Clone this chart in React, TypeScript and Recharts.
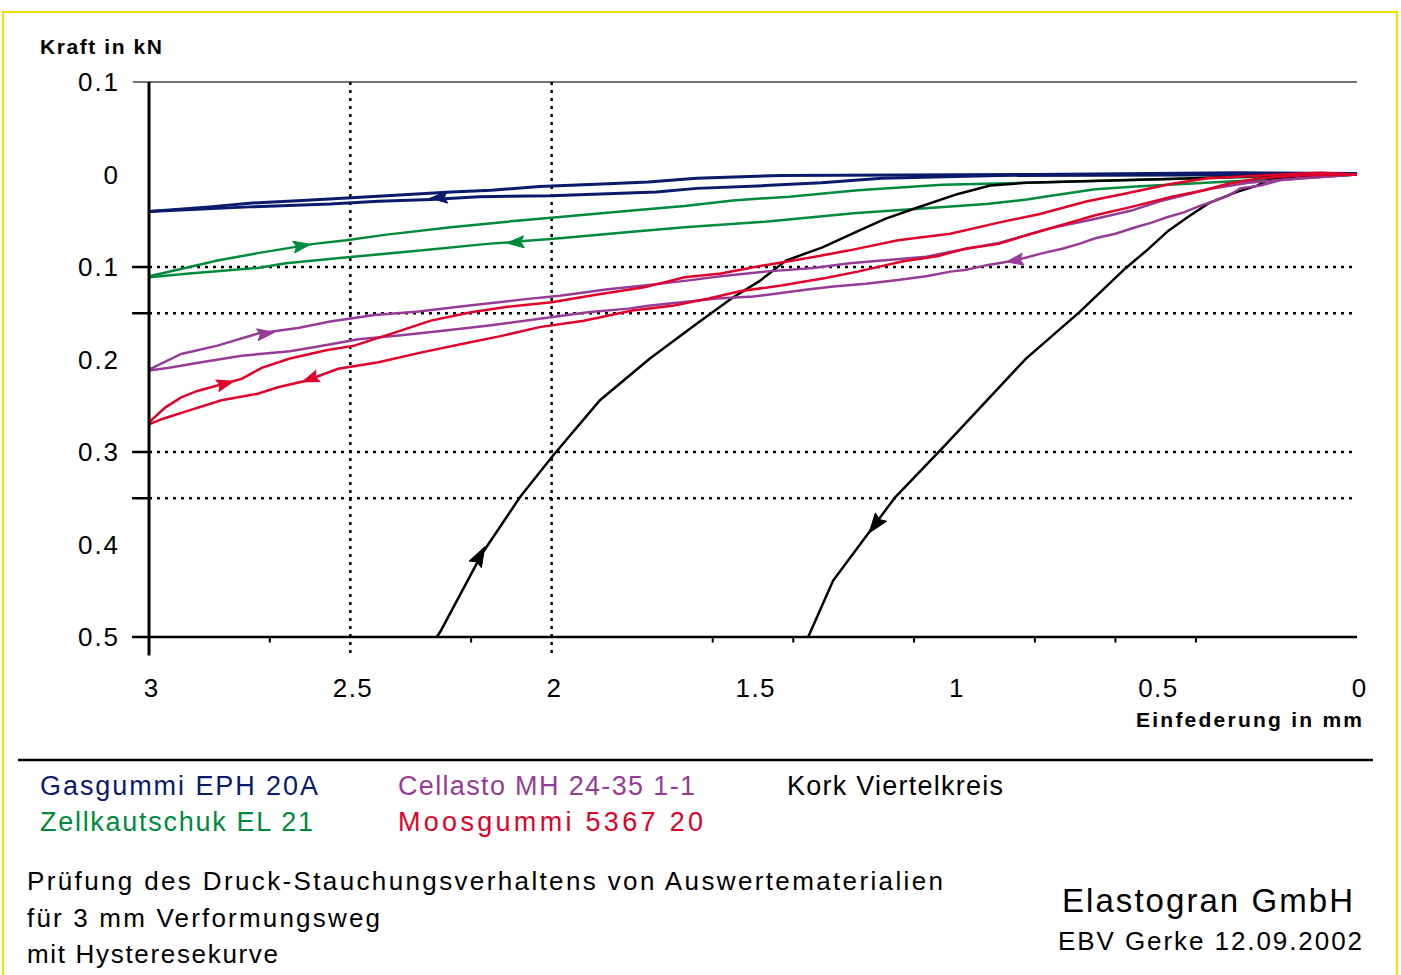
import React from 'react';
import { ComposedChart, Line, XAxis, YAxis, ReferenceLine, Scatter } from 'recharts';

type Pt = { x: number; y: number };

// ---------- axes ----------
const X_TICKS = [3, 2.5, 2, 1.5, 1, 0.5, 0];
const Y_TICKS = [-0.1, 0, 0.1, 0.2, 0.3, 0.4, 0.5];
const H_GRID = [0.1, 0.15, 0.3, 0.35];
const V_GRID = [2.5, 2];
const X_MINOR_TICKS = [2.7, 2.2, 1.6, 1.4, 1.1, 0.8, 0.6, 0.4];

// ---------- series (x = Einfederung mm, y = Kraft kN) ----------
const gasgummiUnload: Pt[] = [
  { x: 3.0, y: 0.04 }, { x: 2.85, y: 0.035 }, { x: 2.75, y: 0.031 }, { x: 2.62, y: 0.028 },
  { x: 2.53, y: 0.026 }, { x: 2.41, y: 0.023 }, { x: 2.25, y: 0.019 }, { x: 2.15, y: 0.017 },
  { x: 2.03, y: 0.013 }, { x: 1.86, y: 0.01 }, { x: 1.76, y: 0.008 }, { x: 1.64, y: 0.004 },
  { x: 1.43, y: 0.001 }, { x: 0.8, y: 0.0 }, { x: 0.3, y: -0.002 }, { x: 0, y: -0.001 },
];
const gasgummiLoad: Pt[] = [
  { x: 3.0, y: 0.04 }, { x: 2.75, y: 0.035 }, { x: 2.55, y: 0.032 }, { x: 2.43, y: 0.029 },
  { x: 2.3, y: 0.027 }, { x: 2.18, y: 0.024 }, { x: 2.0, y: 0.023 }, { x: 1.74, y: 0.019 },
  { x: 1.64, y: 0.015 }, { x: 1.47, y: 0.012 }, { x: 1.33, y: 0.009 }, { x: 1.18, y: 0.004 },
  { x: 0.89, y: 0.001 }, { x: 0, y: 0.0 },
];
const zellUnload: Pt[] = [
  { x: 3.0, y: 0.11 }, { x: 2.91, y: 0.101 }, { x: 2.83, y: 0.093 }, { x: 2.73, y: 0.085 },
  { x: 2.59, y: 0.075 }, { x: 2.51, y: 0.071 }, { x: 2.41, y: 0.065 }, { x: 2.25, y: 0.057 },
  { x: 2.11, y: 0.051 }, { x: 1.98, y: 0.046 }, { x: 1.8, y: 0.039 }, { x: 1.67, y: 0.034 },
  { x: 1.55, y: 0.028 }, { x: 1.41, y: 0.024 }, { x: 1.24, y: 0.017 }, { x: 1.03, y: 0.011 },
  { x: 0.82, y: 0.009 }, { x: 0.39, y: 0.004 }, { x: 0, y: 0.0 },
];
const zellLoad: Pt[] = [
  { x: 3.0, y: 0.111 }, { x: 2.9, y: 0.107 }, { x: 2.73, y: 0.101 }, { x: 2.66, y: 0.096 },
  { x: 2.52, y: 0.09 }, { x: 2.32, y: 0.082 }, { x: 2.16, y: 0.075 }, { x: 1.98, y: 0.069 },
  { x: 1.8, y: 0.062 }, { x: 1.67, y: 0.057 }, { x: 1.47, y: 0.051 }, { x: 1.25, y: 0.042 },
  { x: 1.09, y: 0.037 }, { x: 0.92, y: 0.032 }, { x: 0.82, y: 0.027 }, { x: 0.76, y: 0.023 },
  { x: 0.65, y: 0.016 }, { x: 0.55, y: 0.013 }, { x: 0.16, y: 0.004 }, { x: 0, y: 0.0 },
];
const cellastoUnload: Pt[] = [
  { x: 3.0, y: 0.211 }, { x: 2.92, y: 0.194 }, { x: 2.83, y: 0.185 }, { x: 2.73, y: 0.172 },
  { x: 2.63, y: 0.166 }, { x: 2.55, y: 0.159 }, { x: 2.44, y: 0.152 }, { x: 2.33, y: 0.148 },
  { x: 2.21, y: 0.142 }, { x: 2.07, y: 0.135 }, { x: 1.98, y: 0.131 }, { x: 1.86, y: 0.124 },
  { x: 1.77, y: 0.12 }, { x: 1.67, y: 0.115 }, { x: 1.58, y: 0.11 }, { x: 1.47, y: 0.105 },
  { x: 1.35, y: 0.101 }, { x: 1.26, y: 0.096 }, { x: 1.15, y: 0.092 }, { x: 1.07, y: 0.089 },
  { x: 0.99, y: 0.082 }, { x: 0.89, y: 0.074 }, { x: 0.76, y: 0.058 }, { x: 0.66, y: 0.049 },
  { x: 0.56, y: 0.039 }, { x: 0.49, y: 0.029 }, { x: 0.37, y: 0.016 }, { x: 0.27, y: 0.009 },
  { x: 0.14, y: 0.004 }, { x: 0, y: 0.0 },
];
const cellastoLoad: Pt[] = [
  { x: 3.0, y: 0.212 }, { x: 2.95, y: 0.209 }, { x: 2.87, y: 0.203 }, { x: 2.77, y: 0.196 },
  { x: 2.65, y: 0.191 }, { x: 2.58, y: 0.186 }, { x: 2.48, y: 0.178 }, { x: 2.38, y: 0.174 },
  { x: 2.27, y: 0.169 }, { x: 2.15, y: 0.163 }, { x: 2.03, y: 0.156 }, { x: 1.91, y: 0.149 },
  { x: 1.81, y: 0.145 }, { x: 1.76, y: 0.142 }, { x: 1.59, y: 0.134 }, { x: 1.5, y: 0.132 },
  { x: 1.43, y: 0.128 }, { x: 1.36, y: 0.124 }, { x: 1.3, y: 0.121 }, { x: 1.22, y: 0.118 },
  { x: 1.14, y: 0.114 }, { x: 1.07, y: 0.11 }, { x: 1.01, y: 0.105 }, { x: 0.97, y: 0.103 },
  { x: 0.92, y: 0.098 }, { x: 0.85, y: 0.093 }, { x: 0.78, y: 0.085 }, { x: 0.73, y: 0.08 },
  { x: 0.69, y: 0.075 }, { x: 0.65, y: 0.069 }, { x: 0.6, y: 0.064 }, { x: 0.55, y: 0.057 },
  { x: 0.51, y: 0.052 }, { x: 0.47, y: 0.046 }, { x: 0.43, y: 0.041 }, { x: 0.39, y: 0.034 },
  { x: 0.35, y: 0.028 }, { x: 0.32, y: 0.023 }, { x: 0.29, y: 0.015 }, { x: 0.24, y: 0.012 },
  { x: 0.19, y: 0.006 }, { x: 0, y: 0.0 },
];
const moosUnload: Pt[] = [
  { x: 3.0, y: 0.268 }, { x: 2.96, y: 0.252 }, { x: 2.92, y: 0.241 }, { x: 2.88, y: 0.234 },
  { x: 2.77, y: 0.221 }, { x: 2.72, y: 0.209 }, { x: 2.65, y: 0.199 }, { x: 2.56, y: 0.19 },
  { x: 2.49, y: 0.185 }, { x: 2.39, y: 0.171 }, { x: 2.3, y: 0.158 }, { x: 2.2, y: 0.149 },
  { x: 2.11, y: 0.143 }, { x: 2.0, y: 0.138 }, { x: 1.89, y: 0.13 }, { x: 1.77, y: 0.122 },
  { x: 1.67, y: 0.111 }, { x: 1.58, y: 0.107 }, { x: 1.47, y: 0.098 }, { x: 1.36, y: 0.09 },
  { x: 1.26, y: 0.082 }, { x: 1.14, y: 0.071 }, { x: 1.01, y: 0.064 }, { x: 0.89, y: 0.052 },
  { x: 0.79, y: 0.043 }, { x: 0.67, y: 0.029 }, { x: 0.58, y: 0.021 }, { x: 0.46, y: 0.01 },
  { x: 0.37, y: 0.004 }, { x: 0.24, y: 0.001 }, { x: 0.09, y: -0.002 }, { x: 0, y: 0.0 },
];
const moosLoad: Pt[] = [
  { x: 3.0, y: 0.27 }, { x: 2.965, y: 0.264 }, { x: 2.9, y: 0.255 }, { x: 2.82, y: 0.244 },
  { x: 2.73, y: 0.237 }, { x: 2.68, y: 0.23 }, { x: 2.61, y: 0.223 }, { x: 2.53, y: 0.21 },
  { x: 2.43, y: 0.203 }, { x: 2.32, y: 0.192 }, { x: 2.22, y: 0.183 }, { x: 2.13, y: 0.175 },
  { x: 2.03, y: 0.165 }, { x: 1.92, y: 0.158 }, { x: 1.8, y: 0.147 }, { x: 1.7, y: 0.142 },
  { x: 1.61, y: 0.134 }, { x: 1.53, y: 0.126 }, { x: 1.43, y: 0.12 }, { x: 1.32, y: 0.112 },
  { x: 1.24, y: 0.105 }, { x: 1.13, y: 0.094 }, { x: 1.04, y: 0.088 }, { x: 0.97, y: 0.08 },
  { x: 0.89, y: 0.075 }, { x: 0.8, y: 0.063 }, { x: 0.72, y: 0.053 }, { x: 0.65, y: 0.044 },
  { x: 0.56, y: 0.035 }, { x: 0.46, y: 0.024 }, { x: 0.38, y: 0.017 }, { x: 0.32, y: 0.01 },
  { x: 0.24, y: 0.004 }, { x: 0.14, y: 0.001 }, { x: 0, y: 0.0 },
];
const korkLoad: Pt[] = [
  { x: 1.363, y: 0.5 }, { x: 1.301, y: 0.439 }, { x: 1.214, y: 0.388 }, { x: 1.147, y: 0.349 },
  { x: 1.028, y: 0.295 }, { x: 0.822, y: 0.199 }, { x: 0.69, y: 0.149 }, { x: 0.574, y: 0.101 },
  { x: 0.522, y: 0.082 }, { x: 0.469, y: 0.061 }, { x: 0.42, y: 0.046 }, { x: 0.368, y: 0.031 },
  { x: 0.3, y: 0.019 }, { x: 0.248, y: 0.012 }, { x: 0.211, y: 0.004 }, { x: 0, y: 0.0 },
];
const korkUnload: Pt[] = [
  { x: 2.285, y: 0.5 }, { x: 2.275, y: 0.493 }, { x: 2.173, y: 0.41 }, { x: 2.079, y: 0.349 },
  { x: 1.997, y: 0.304 }, { x: 1.88, y: 0.244 }, { x: 1.756, y: 0.199 }, { x: 1.639, y: 0.161 },
  { x: 1.55, y: 0.133 }, { x: 1.483, y: 0.115 }, { x: 1.418, y: 0.093 }, { x: 1.329, y: 0.079 },
  { x: 1.249, y: 0.063 }, { x: 1.172, y: 0.048 }, { x: 1.093, y: 0.036 }, { x: 0.991, y: 0.021 },
  { x: 0.911, y: 0.012 }, { x: 0.822, y: 0.009 }, { x: 0.405, y: 0.004 }, { x: 0.211, y: 0.001 },
  { x: 0, y: 0.0 },
];

// ---------- legend / captions ----------
const LEGEND_NAMES = ['Gasgummi EPH 20A', 'Zellkautschuk EL 21', 'Cellasto MH 24-35 1-1', 'Moosgummi 5367 20', 'Kork Viertelkreis'];
const CAPTION_LINES = ['Prüfung des Druck-Stauchungsverhaltens  von Auswertematerialien', 'für 3 mm Verformungsweg', 'mit Hysteresekurve'];
const COMPANY = 'Elastogran GmbH';
const AUTHOR = 'EBV Gerke 12.09.2002';

// arrow heads on the hysteresis branches (toward: direction of travel in x)
const ARROWS = [
  { series: 'gasL', x: 2.28, y: 0.025, toward: 3 },
  { series: 'zelU', x: 2.62, y: 0.077, toward: 0 },
  { series: 'zelL', x: 2.09, y: 0.0735, toward: 3 },
  { series: 'mooU', x: 2.81, y: 0.226, toward: 0 },
  { series: 'mooL', x: 2.6, y: 0.221, toward: 3 },
  { series: 'celU', x: 2.71, y: 0.172, toward: 0 },
  { series: 'celL', x: 0.85, y: 0.093, toward: 3 },
  { series: 'korL', x: 1.197, y: 0.379, toward: 3 },
  { series: 'korU', x: 2.178, y: 0.412, toward: 0 },
];

const NAVY = '#0b1a6b';
const GREEN = '#008a3c';
const PURPLE = '#963c96';
const RED = '#e0002a';
const BLACK = '#000000';

const SERIES = [
  { id: 'gasU', data: gasgummiUnload, color: NAVY, w: 3 },
  { id: 'gasL', data: gasgummiLoad, color: NAVY, w: 3 },
  { id: 'zelU', data: zellUnload, color: GREEN, w: 2.5 },
  { id: 'zelL', data: zellLoad, color: GREEN, w: 2.5 },
  { id: 'korL', data: korkLoad, color: BLACK, w: 2.5 },
  { id: 'korU', data: korkUnload, color: BLACK, w: 2.5 },
  { id: 'celU', data: cellastoUnload, color: PURPLE, w: 2.5 },
  { id: 'celL', data: cellastoLoad, color: PURPLE, w: 2.5 },
  { id: 'mooU', data: moosUnload, color: RED, w: 2.5 },
  { id: 'mooL', data: moosLoad, color: RED, w: 2.5 },
];

// layout
const W = 1401;
const H = 975;
const PLOT_LEFT = 149;
const PLOT_RIGHT = 1357;
const PLOT_TOP = 82;
const PLOT_BOTTOM = 637;
const KX = (PLOT_RIGHT - PLOT_LEFT) / 3;
const KY = (PLOT_BOTTOM - PLOT_TOP) / 0.6;
const FONT = '"Liberation Sans", Arial, sans-serif';

function arrowAngle(data: Pt[], x: number, toward: number): number {
  let i = 0;
  for (let k = 0; k < data.length - 1; k++) {
    if (data[k].x >= x && data[k + 1].x <= x) { i = k; break; }
  }
  const a = data[i];
  const b = data[i + 1];
  const sdx = -KX * (a.x - b.x);
  const sdy = KY * (a.y - b.y);
  let ang = Math.atan2(sdy, sdx);
  if (toward === 0) ang += Math.PI;
  return ang;
}

const ARROW_MARKS = ARROWS.map((a) => {
  const s = SERIES.find((q) => q.id === a.series)!;
  return { x: a.x, y: a.y, angle: arrowAngle(s.data, a.x, a.toward), color: s.color, big: s.color === BLACK };
});

const renderArrow = (props: any) => {
  const { cx, cy, payload } = props;
  if (cx == null || cy == null) return <g />;
  const L = payload.big ? 20 : 17;
  const Wd = payload.big ? 7 : 6;
  const c = Math.cos(payload.angle);
  const s = Math.sin(payload.angle);
  const tx = cx + c * L / 2, ty = cy + s * L / 2;
  const bx = cx - c * L / 2, by = cy - s * L / 2;
  const p1 = `${tx},${ty}`;
  const p2 = `${bx - s * Wd},${by + c * Wd}`;
  const p3 = `${bx + c * 3},${by + s * 3}`;
  const p4 = `${bx + s * Wd},${by - c * Wd}`;
  return <polygon points={`${p1} ${p2} ${p3} ${p4}`} fill={payload.color} stroke={payload.color} strokeWidth={1} />;
};

const XTick = (props: any) => {
  const { x, payload } = props;
  const label = String(payload.value);
  return (
    <text x={x + 2} y={697} textAnchor="middle" fontSize={26} fontFamily={FONT} fill="#000"
      {...(label.length > 1 ? { textLength: 39, lengthAdjust: 'spacing' } : {})}>
      {label}
    </text>
  );
};

const YTick = (props: any) => {
  const { y, payload } = props;
  const v = Math.abs(payload.value);
  const label = v === 0 ? '0' : v.toFixed(1);
  return (
    <text x={118} y={y + 9} textAnchor="end" fontSize={26} fontFamily={FONT} fill="#000"
      {...(label.length > 1 ? { textLength: 40, lengthAdjust: 'spacing' } : {})}>
      {label}
    </text>
  );
};

export default function App() {
  return (
    <div style={{ position: 'absolute', left: 0, top: 0, width: W, height: H, background: '#fff', overflow: 'hidden' }}>
      <div style={{ position: 'absolute', left: 0, top: 0 }}>
        <ComposedChart width={W} height={H}
          margin={{ top: PLOT_TOP, right: W - PLOT_RIGHT, bottom: H - PLOT_BOTTOM - 40, left: PLOT_LEFT - 60 }}>
          <XAxis dataKey="x" type="number" domain={[0, 3]} reversed ticks={X_TICKS} interval={0}
            allowDataOverflow height={40} tickLine={false} tickSize={0}
            axisLine={{ stroke: '#000', strokeWidth: 2.5 }} tick={<XTick />} />
          <YAxis type="number" domain={[-0.1, 0.5]} reversed ticks={Y_TICKS} interval={0}
            allowDataOverflow width={60} tickLine={false} tickSize={0}
            axisLine={{ stroke: '#000', strokeWidth: 3 }} tick={<YTick />} />

          <ReferenceLine segment={[{ x: 3.04, y: -0.1 }, { x: 0, y: -0.1 }]} stroke="#444" strokeWidth={1.5} ifOverflow="visible" />
          {H_GRID.map((g) => (
            <ReferenceLine key={'h' + g} segment={[{ x: 3, y: g }, { x: 0, y: g }]} stroke="#000" strokeWidth={2.5}
              strokeDasharray="3 5" ifOverflow="visible" />
          ))}
          {H_GRID.map((g) => (
            <ReferenceLine key={'ht' + g} segment={[{ x: 3.042, y: g }, { x: 3, y: g }]} stroke="#000" strokeWidth={2.5}
              ifOverflow="visible" />
          ))}
          {V_GRID.map((g) => (
            <ReferenceLine key={'v' + g} segment={[{ x: g, y: -0.1 }, { x: g, y: 0.518 }]} stroke="#000" strokeWidth={2.5}
              strokeDasharray="3 5" ifOverflow="visible" />
          ))}
          {X_MINOR_TICKS.map((g) => (
            <ReferenceLine key={'m' + g} segment={[{ x: g, y: 0.5 }, { x: g, y: 0.506 }]} stroke="#000" strokeWidth={2}
              ifOverflow="visible" />
          ))}
          <ReferenceLine segment={[{ x: 3.042, y: 0.5 }, { x: 3, y: 0.5 }]} stroke="#000" strokeWidth={2.5} ifOverflow="visible" />
          <ReferenceLine segment={[{ x: 3, y: 0.5 }, { x: 3, y: 0.52 }]} stroke="#000" strokeWidth={3} ifOverflow="visible" />

          {SERIES.map((s) => (
            <Line key={s.id} data={s.data} dataKey="y" type="linear" stroke={s.color} strokeWidth={s.w}
              dot={false} activeDot={false} isAnimationActive={false} legendType="none" />
          ))}
          <Scatter data={ARROW_MARKS} dataKey="y" shape={renderArrow} isAnimationActive={false} legendType="none" />
        </ComposedChart>
      </div>

      <svg width={W} height={H} style={{ position: 'absolute', left: 0, top: 0, pointerEvents: 'none' }}>
        <rect x={3} y={12} width={1394} height={H} fill="none" stroke="#f2e200" strokeWidth={2} />
        <line x1={18} x2={1373} y1={760} y2={760} stroke="#000" strokeWidth={2.5} />
        <g fontFamily={FONT}>
          <text x={40} y={54} fontSize={21} fontWeight="bold" textLength={122} lengthAdjust="spacing">Kraft in kN</text>
          <text x={1136} y={727} fontSize={21} fontWeight="bold" textLength={226} lengthAdjust="spacing">Einfederung in mm</text>

          <text x={40} y={795} fontSize={27} fill={NAVY} textLength={278} lengthAdjust="spacing">{LEGEND_NAMES[0]}</text>
          <text x={40} y={831} fontSize={27} fill={GREEN} textLength={273} lengthAdjust="spacing">{LEGEND_NAMES[1]}</text>
          <text x={398} y={795} fontSize={27} fill={PURPLE} textLength={297} lengthAdjust="spacing">{LEGEND_NAMES[2]}</text>
          <text x={398} y={831} fontSize={27} fill={RED} textLength={305} lengthAdjust="spacing">{LEGEND_NAMES[3]}</text>
          <text x={787} y={795} fontSize={27} fill={BLACK} textLength={216} lengthAdjust="spacing">{LEGEND_NAMES[4]}</text>

          <text x={27} y={890} fontSize={26} textLength={916} lengthAdjust="spacing">{CAPTION_LINES[0]}</text>
          <text x={27} y={927} fontSize={26} textLength={353} lengthAdjust="spacing">{CAPTION_LINES[1]}</text>
          <text x={27} y={963} fontSize={26} textLength={251} lengthAdjust="spacing">{CAPTION_LINES[2]}</text>

          <text x={1062} y={912} fontSize={33} textLength={291} lengthAdjust="spacing">{COMPANY}</text>
          <text x={1058} y={950} fontSize={26} textLength={304} lengthAdjust="spacing">{AUTHOR}</text>
        </g>
      </svg>
    </div>
  );
}
